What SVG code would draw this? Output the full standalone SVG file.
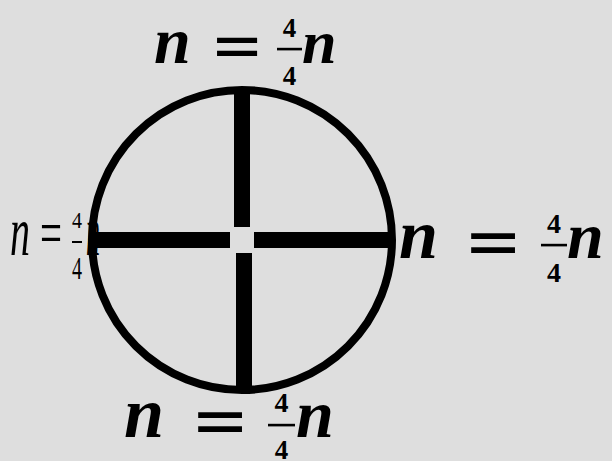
<svg xmlns="http://www.w3.org/2000/svg" width="612" height="461" viewBox="0 0 612 461">
<style>
.n{font-family:"Liberation Serif",serif;font-weight:bold;font-style:italic;fill:#000}
.eq{font-family:"DejaVu Sans",sans-serif;fill:#000;text-anchor:middle}
.d{font-family:"Liberation Serif",serif;font-weight:bold;fill:#000;text-anchor:middle}
.ln{font-family:"Liberation Serif",serif;font-style:italic;fill:#000}
.ld{font-family:"Liberation Serif",serif;fill:#000}
.bar{fill:#000}
</style>
<rect width="612" height="461" fill="#dedede"/>
<g id="label-top">
<text class="n" x="154" y="63" font-size="66">n</text>
<text class="eq" x="237" y="67" font-size="64">=</text>
<rect class="bar" x="277" y="47.8" width="25" height="2.6"/>
<text class="d" x="289.5" y="37" font-size="27">4</text>
<text class="d" x="289.5" y="85" font-size="27">4</text>
<text class="n" x="302" y="63" font-size="62">n</text>
</g>
<g id="label-right">
<text class="n" x="399" y="258" font-size="70">n</text>
<text class="eq" x="493" y="265" font-size="70">=</text>
<rect class="bar" x="541" y="243.8" width="26" height="2.6"/>
<text class="d" x="554" y="233" font-size="28">4</text>
<text class="d" x="554" y="282" font-size="28">4</text>
<text class="n" x="567" y="258" font-size="66">n</text>
</g>
<g id="label-bottom">
<text class="n" x="124" y="437" font-size="72">n</text>
<text class="eq" x="220" y="444" font-size="70">=</text>
<rect class="bar" x="268" y="423.8" width="27" height="2.6"/>
<text class="d" x="281.5" y="412" font-size="28">4</text>
<text class="d" x="281.5" y="459" font-size="27">4</text>
<text class="n" x="296" y="437" font-size="68">n</text>
</g>
<g id="label-left">
<text class="ln" x="10" y="255" font-size="70" textLength="20" lengthAdjust="spacingAndGlyphs">n</text>
<text class="ld" x="40" y="254" font-size="64" textLength="22" lengthAdjust="spacingAndGlyphs">=</text>
<rect class="bar" x="72" y="241" width="10" height="2"/>
<text class="ld" x="72" y="228" font-size="24" textLength="10" lengthAdjust="spacingAndGlyphs">4</text>
<text class="ld" x="72" y="279" font-size="32" textLength="10" lengthAdjust="spacingAndGlyphs">4</text>
<text class="ln" x="86" y="255" font-size="70" textLength="14" lengthAdjust="spacingAndGlyphs">n</text>
</g>
<g id="wheel">
<circle cx="242" cy="240" r="150" fill="none" stroke="#000" stroke-width="8"/>
<rect class="bar" x="234" y="90" width="16" height="137"/>
<rect class="bar" x="236" y="253" width="16" height="137"/>
<rect class="bar" x="90" y="232" width="140" height="16"/>
<rect class="bar" x="254" y="232" width="140" height="16"/>
</g>
</svg>
